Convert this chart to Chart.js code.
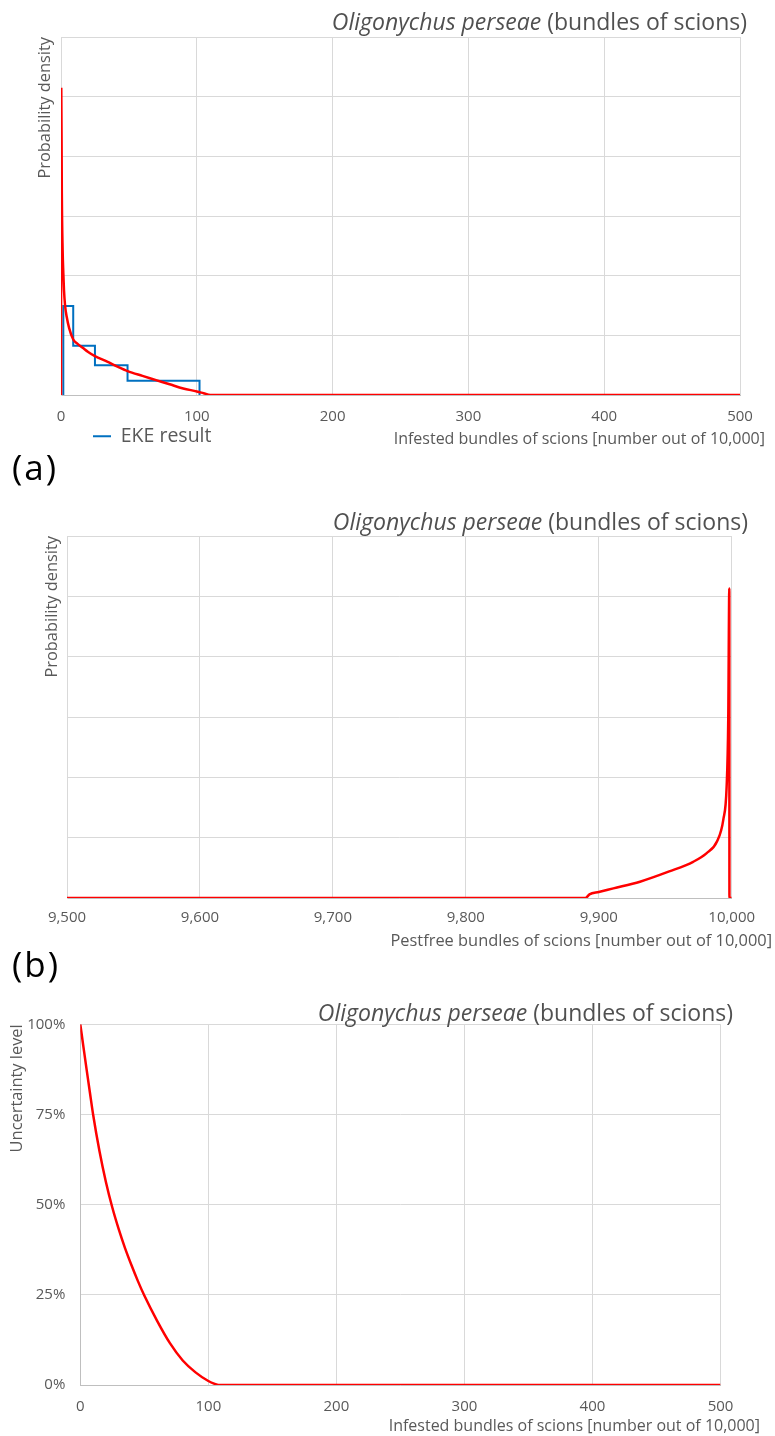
<!DOCTYPE html>
<html>
<head>
<meta charset="utf-8">
<script src="https://cdn.jsdelivr.net/npm/chart.js@4.4.1/dist/chart.umd.min.js"></script>
<style>
  body { margin: 0; background: #fff; }
  #page { position: relative; width: 775px; height: 1436px; overflow: hidden; }
  canvas { position: absolute; left: 0; }
  .tag { position: absolute; left: 12px; font: 35px "Open Sans", sans-serif; letter-spacing: 2px; color: #000; line-height: 1; z-index: 2; }
</style>
</head>
<body>
<div id="page">
  <canvas id="chartA" width="775" height="450" style="top:0"></canvas>
  <div class="tag" style="top:449px">(a)</div>
  <canvas id="chartB" width="775" height="455" style="top:500px"></canvas>
  <div class="tag" style="top:946px">(b)</div>
  <canvas id="chartC" width="775" height="446" style="top:990px"></canvas>
</div>
<script>
// (a) probability density, infested bundles out of 10,000
const infX    = [0, 0.2, 0.6, 1.2, 1.7, 2.2, 3, 4.2, 6, 9, 12, 16, 20, 25, 34, 42, 49, 60, 70, 80, 90, 100, 105, 110, 500];
const infDens = [0, 5.13, 3.4, 2.43, 2.05, 1.76, 1.5, 1.31, 1.12, 0.93, 0.86, 0.79, 0.72, 0.65, 0.56, 0.47, 0.40, 0.32, 0.25, 0.18, 0.11, 0.06, 0.03, 0, 0];

// EKE result histogram: bin edges and density of each bin
const ekeEdges = [1.7, 9, 25, 49, 102];
const ekeDens  = [1.49, 0.826, 0.50, 0.24];

// (b) probability density, pest free bundles
const freeX    = [9500, 9890, 9893, 9900, 9911, 9931, 9953, 9971, 9981, 9989, 9993.7, 9996.2, 9997.4, 9998.2, 9998.3, 10000];
const freeDens = [0, 0, 0.06, 0.1, 0.16, 0.27, 0.44, 0.60, 0.74, 0.94, 1.30, 1.85, 2.96, 5.13, 0, 0];

// (c) uncertainty level (%)
const uncX     = [0, 2.5, 5, 7.5, 10, 15, 20, 25, 30, 35, 40, 45, 50, 60, 70, 80, 90, 100, 105, 108, 500];
const uncLevel = [100, 93.6, 87.3, 81.1, 75, 64.8, 56.3, 49.2, 43.2, 37.9, 33.2, 28.8, 24.8, 17.8, 11.6, 6.8, 3.5, 1.1, 0.3, 0, 0];

const species = 'Oligonychus perseae';
const titleRest = ' (bundles of scions)';

Chart.defaults.font.family = 'Open Sans';
Chart.defaults.color = '#595959';

const xy = (xs, ys) => xs.map((x, i) => ({x: x, y: ys[i]}));

const ekePoints = [{x: ekeEdges[0], y: 0}]
  .concat(ekeEdges.slice(1).map((x, i) => ({x: x, y: ekeDens[i]})))
  .concat([{x: ekeEdges[ekeEdges.length - 1], y: 0}]);

// title with italic species name + x axis title, both right aligned
const panelText = {
  id: 'panelText',
  afterLayout(chart, args, o) {
    if (o.legendAt && chart.legend) {
      const lg = chart.legend;
      lg.left = o.legendAt[0];
      lg.top = o.legendAt[1];
      lg.right = lg.left + 200;
      lg.bottom = lg.top + 40;
    }
  },
  afterDraw(chart, args, o) {
    const ctx = chart.ctx;
    ctx.save();
    ctx.textBaseline = 'alphabetic';
    ctx.textAlign = 'left';
    ctx.fillStyle = '#505050';
    ctx.font = '23px "Open Sans"';
    const w2 = ctx.measureText(titleRest).width;
    ctx.font = 'italic 23px "Open Sans"';
    const w1 = ctx.measureText(species).width;
    const x0 = o.titleRight - w1 - w2;
    ctx.fillText(species, x0, o.titleBase);
    ctx.font = '23px "Open Sans"';
    ctx.fillText(titleRest, x0 + w1, o.titleBase);

    ctx.font = o.xTitleSize + 'px "Open Sans"';
    ctx.fillStyle = '#595959';
    ctx.textAlign = 'right';
    ctx.fillText(o.xTitle, o.xTitleRight, o.xTitleBase);
    ctx.restore();
  }
};

const redLine = (data) => ({
  label: 'Density',
  data: data,
  borderColor: '#ff0000',
  borderWidth: 2.5,
  pointRadius: 0,
  cubicInterpolationMode: 'monotone',
  fill: false
});

function xScale(min, max, pad) {
  return {
    type: 'linear', min: min, max: max,
    ticks: {stepSize: 100, padding: pad, font: {size: 15}, maxRotation: 0},
    grid: {color: '#d9d9d9', drawTicks: false},
    border: {color: '#bfbfbf'},
    afterFit: (s) => { s.height = 30; }
  };
}

function baseOptions(pad, yScale, xS, text, legend) {
  return {
    responsive: false,
    animation: false,
    locale: 'en-US',
    layout: {padding: pad},
    scales: {x: xS, y: yScale},
    plugins: {
      legend: legend || {display: false},
      tooltip: {enabled: false},
      panelText: text
    }
  };
}

const densY = (w) => ({
  min: 0, max: 6,
  ticks: {display: false, stepSize: 1},
  grid: {color: '#d9d9d9', drawTicks: false},
  border: {color: '#d9d9d9'},
  title: {display: true, text: 'Probability density', align: 'end', padding: 0, font: {size: 16.4}},
  afterFit: (s) => { s.width = w; }
});

new Chart(document.getElementById('chartA'), {
  type: 'line',
  data: {
    datasets: [
      redLine(xy(infX, infDens)),
      {
        label: 'EKE result',
        data: ekePoints,
        borderColor: '#0070c0',
        backgroundColor: '#0070c0',
        borderWidth: 2,
        pointRadius: 0,
        stepped: 'after',
        fill: false
      }
    ]
  },
  options: baseOptions(
    {left: 35.2, top: 37, right: 35, bottom: 25},
    densY(25.8),
    xScale(0, 500, 13),
    {titleRight: 747, titleBase: 30, xTitle: 'Infested bundles of scions [number out of 10,000]', xTitleSize: 16, xTitleRight: 765, xTitleBase: 444, legendAt: [83, 416.5]},
    {
      position: 'chartArea',
      align: 'start',
      labels: {
        filter: (item) => item.text === 'EKE result',
        usePointStyle: true,
        pointStyle: 'line',
        pointStyleWidth: 18,
        color: '#595959',
        font: {size: 19.5},
        padding: 10
      }
    }
  ),
  plugins: [panelText]
});

new Chart(document.getElementById('chartB'), {
  type: 'line',
  data: {datasets: [redLine(xy(freeX, freeDens))]},
  options: baseOptions(
    {left: 42.9, top: 36, right: 43.3, bottom: 27},
    densY(24.1),
    xScale(9500, 10000, 11),
    {titleRight: 748, titleBase: 30, xTitle: 'Pestfree bundles of scions [number out of 10,000]', xTitleSize: 16.4, xTitleRight: 772, xTitleBase: 446}
  ),
  plugins: [panelText]
});

new Chart(document.getElementById('chartC'), {
  type: 'line',
  data: {datasets: [redLine(xy(uncX, uncLevel))]},
  options: baseOptions(
    {left: 7.2, top: 34.3, right: 54.5, bottom: 21},
    {
      min: 0, max: 100,
      ticks: {stepSize: 25, padding: 15, font: {size: 15}, callback: (v) => v + '%'},
      grid: {color: '#d9d9d9', drawTicks: false},
      border: {color: '#bfbfbf'},
      title: {display: true, text: 'Uncertainty level', align: 'end', padding: 0, font: {size: 16.4}},
      afterFit: (s) => { s.width = 73.1; }
    },
    xScale(0, 500, 13),
    {titleRight: 733, titleBase: 31, xTitle: 'Infested bundles of scions [number out of 10,000]', xTitleSize: 16, xTitleRight: 760, xTitleBase: 441}
  ),
  plugins: [panelText]
});
</script>
</body>
</html>
